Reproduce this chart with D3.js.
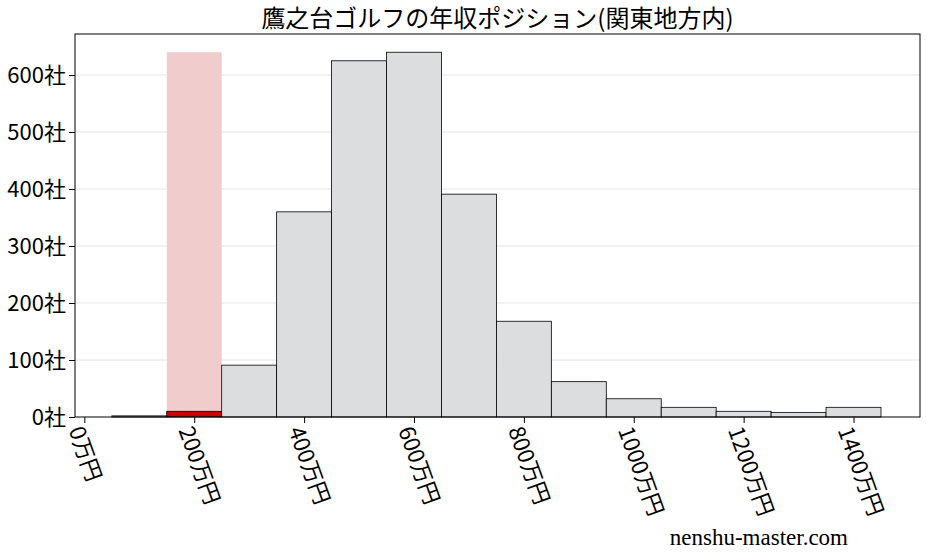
<!DOCTYPE html>
<html><head><meta charset="utf-8">
<script src="https://cdn.jsdelivr.net/npm/d3@7"></script>
<style>body{margin:0;background:#fff}</style>
</head><body><svg id="c" width="927" height="557"></svg>
<script>
const binStarts = [50,150,250,350,450,550,650,750,850,950,1050,1150,1250,1350];
const counts = [2,10,91,360,625,640,391,168,62,32,17,10,8,17];
const highlightBin = 150;
const highlightHeight = 640;
const xTicks = [0,200,400,600,800,1000,1200,1400];
const yTicks = [0,100,200,300,400,500,600];
const title = "鷹之台ゴルフの年収ポジション(関東地方内)";

const svg = d3.select("#c");
const L=75,R=920,T=34,B=417;
const x = d3.scaleLinear().domain([-17,1521]).range([L,R]);
const y = d3.scaleLinear().domain([0,672]).range([B,T]);
const font = "'Noto Sans CJK JP', sans-serif";

svg.append("g").selectAll("line").data(yTicks.slice(1)).join("line")
  .attr("x1",L).attr("x2",R).attr("y1",d=>y(d)).attr("y2",d=>y(d))
  .attr("stroke","#ddd").attr("stroke-width",0.8);

svg.append("rect").attr("x",x(highlightBin)).attr("width",x(highlightBin+100)-x(highlightBin))
  .attr("y",y(highlightHeight)).attr("height",B-y(highlightHeight)).attr("fill","#f0cccc");

svg.append("g").selectAll("rect").data(binStarts).join("rect")
  .attr("x",d=>x(d)).attr("width",d=>x(d+100)-x(d))
  .attr("y",(d,i)=>y(counts[i])).attr("height",(d,i)=>B-y(counts[i]))
  .attr("fill",d=>d===highlightBin?"#cc0000":"#dcdddf")
  .attr("stroke","#000").attr("stroke-width",0.8);

svg.append("rect").attr("x",L).attr("y",T).attr("width",R-L).attr("height",B-T)
  .attr("fill","none").attr("stroke","#000").attr("stroke-width",1);

const ya = svg.append("g").attr("transform",`translate(${L},0)`)
  .call(d3.axisLeft(y).tickValues(yTicks).tickFormat(d=>d+"社").tickSizeOuter(0));
ya.select(".domain").remove();
ya.selectAll("text").attr("font-size",22).attr("font-family",font).attr("fill","#000");

const xa = svg.append("g").attr("transform",`translate(0,${B})`)
  .call(d3.axisBottom(x).tickValues(xTicks).tickFormat(d=>d+"万円").tickSizeOuter(0));
xa.select(".domain").remove();
xa.selectAll("text").attr("font-size",22).attr("font-family",font).attr("fill","#000")
  .attr("text-anchor","start").attr("dy",0).attr("transform","translate(-8,10) rotate(70)");

svg.append("text").attr("x",(L+R)/2).attr("y",27).attr("text-anchor","middle")
  .attr("font-size",24).attr("font-family",font).text(title);
svg.append("text").attr("x",848).attr("y",545).attr("text-anchor","end")
  .attr("font-size",23).attr("font-family","'Liberation Serif', serif").text("nenshu-master.com");
</script></body></html>
